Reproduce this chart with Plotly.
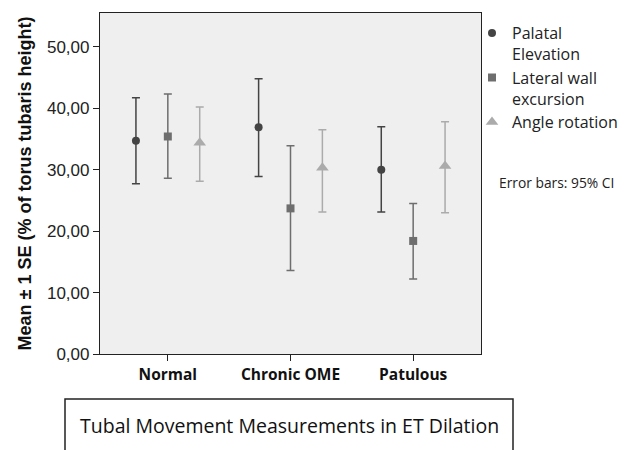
import plotly.graph_objects as go

categories = ["Normal", "Chronic OME", "Patulous"]
series_names = ["Palatal<br>Elevation", "Lateral wall<br>excursion", "Angle rotation"]
means = {
    "Palatal": [34.7, 36.9, 30.0],
    "Lateral": [35.4, 23.7, 18.4],
    "Angle": [34.4, 30.3, 30.6],
}
upper = {
    "Palatal": [41.7, 44.8, 37.0],
    "Lateral": [42.3, 33.9, 24.5],
    "Angle": [40.2, 36.5, 37.8],
}
lower = {
    "Palatal": [27.7, 28.9, 23.1],
    "Lateral": [28.6, 13.6, 12.2],
    "Angle": [28.1, 23.1, 23.0],
}
y_ticks = [0, 10, 20, 30, 40, 50]

keys = ["Palatal", "Lateral", "Angle"]
offsets = [-0.26, 0.0, 0.26]
colors = ["#444444", "#6e6e6e", "#ababab"]
symbols = ["circle", "square", "triangle-up"]
sizes = [8, 8, 11]

fig = go.Figure()
for k, name, off, col, sym, sz in zip(keys, series_names, offsets, colors, symbols, sizes):
    xs = [i + off for i in range(len(categories))]
    fig.add_trace(go.Scatter(
        x=xs, y=means[k], mode="markers", name=name,
        marker=dict(color=col, symbol=sym, size=sz, line=dict(width=0)),
        error_y=dict(type="data", symmetric=False,
                     array=[u - m for u, m in zip(upper[k], means[k])],
                     arrayminus=[m - l for m, l in zip(means[k], lower[k])],
                     color=col, thickness=1.5, width=4),
    ))

PW = 381.0
PH = 341.0

fig.update_layout(
    width=624, height=450,
    margin=dict(l=100, r=143, t=13, b=96, autoexpand=False),
    paper_bgcolor="white", plot_bgcolor="#efefef",
    separators=",.",
    showlegend=True,
    legend=dict(xref="container", yref="container", x=472 / 624, y=1 - 16 / 450,
                xanchor="left", yanchor="top",
                font=dict(family="Open Sans", size=16, color="#222"),
                valign="top", tracegroupgap=2, itemwidth=30,
                bgcolor="rgba(0,0,0,0)"),
    xaxis=dict(range=[-0.553, 2.553], tickvals=list(range(len(categories))),
               ticktext=["<b>%s</b>" % c for c in categories],
               tickfont=dict(family="Open Sans", size=15.5, color="#111"),
               ticks="outside", ticklen=6, tickcolor="#222",
               showline=True, linecolor="#222", linewidth=1.2, mirror=True,
               showgrid=False, zeroline=False),
    yaxis=dict(range=[0, 55.5], tickvals=y_ticks, tickformat=".2f",
               tickfont=dict(family="Liberation Sans, Arial", size=17, color="#222"),
               ticks="outside", ticklen=6, tickcolor="#222",
               showline=True, linecolor="#222", linewidth=1.2, mirror=True,
               showgrid=False, zeroline=False),
)

fig.add_annotation(text="<b>Mean ± 1 SE (% of torus tubaris height)</b>",
                   xref="paper", yref="paper", x=(24 - 100) / PW, y=0.5,
                   textangle=-90, showarrow=False, xanchor="center", yanchor="middle",
                   font=dict(family="Liberation Sans, Arial", size=18, color="#111"))

fig.add_annotation(text="Error bars: 95% CI", xref="paper", yref="paper",
                   x=(497 - 100) / PW, y=(354 - 182) / PH, xanchor="left", yanchor="middle",
                   showarrow=False, font=dict(family="Open Sans", size=13.8, color="#222"))

fig.add_shape(type="rect", xref="paper", yref="paper",
              x0=(65 - 100) / PW, x1=(513 - 100) / PW,
              y0=-(399 - 354) / PH, y1=-(470 - 354) / PH,
              line=dict(color="#222", width=1.5), fillcolor="white", layer="below")

fig.add_annotation(text="Tubal Movement Measurements in ET Dilation", xref="paper", yref="paper",
                   x=(289 - 100) / PW, y=-(425 - 354) / PH, xanchor="center", yanchor="middle",
                   showarrow=False, font=dict(family="Open Sans", size=19.5, color="#111"))

fig.write_html("out.html")
